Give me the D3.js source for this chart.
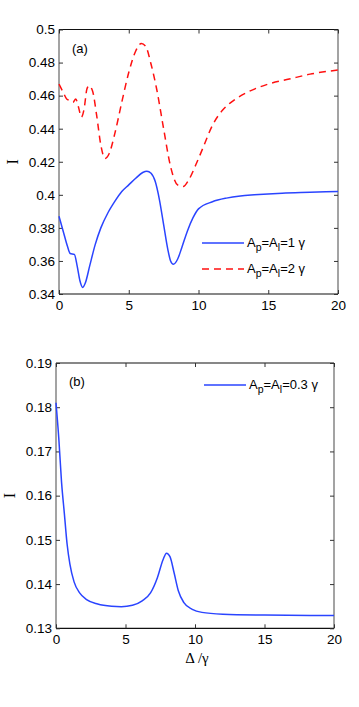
<!DOCTYPE html>
<html lang="en">
<head>
<meta charset="utf-8">
<title>Intensity vs detuning</title>
<script src="https://cdn.jsdelivr.net/npm/d3@7"></script>
<style>
    body { margin: 0; background: #fff; }
    text { font-family: "Liberation Sans", Arial, sans-serif; font-size: 13.5px; fill: #000; }
    text.serif { font-family: "Liberation Serif", "Times New Roman", serif; }
</style>
</head>
<body>
<script>

    // panel (a): A_p = A_l = 1 gamma (solid blue)
    var deltaA1 = [0, 0.3, 0.6, 0.8, 1.1, 1.3, 1.5, 1.7, 1.9, 2.2, 2.6, 3.0, 3.5, 4.0, 4.5, 5.0, 5.5, 6.0, 6.3, 6.6, 6.9, 7.2, 7.5, 7.8, 8.0, 8.2, 8.5, 8.8, 9.2, 9.6, 10, 11, 12, 13, 14, 16, 18, 20];
    var intA1 = [0.387, 0.378, 0.369, 0.3645, 0.364, 0.357, 0.348, 0.344, 0.347, 0.357, 0.370, 0.380, 0.389, 0.396, 0.402, 0.406, 0.410, 0.4135, 0.4143, 0.413, 0.408, 0.397, 0.382, 0.367, 0.360, 0.358, 0.361, 0.368, 0.378, 0.386, 0.3915, 0.3958, 0.398, 0.3993, 0.400, 0.401, 0.4015, 0.402];

    // panel (a): A_p = A_l = 2 gamma (dashed red)
    var deltaA2 = [0, 0.3, 0.55, 0.8, 1.0, 1.2, 1.4, 1.6, 1.8, 2.0, 2.15, 2.4, 2.7, 3.0, 3.3, 3.6, 4.0, 4.5, 5.0, 5.5, 5.9, 6.2, 6.6, 7.0, 7.5, 8.0, 8.5, 8.9, 9.3, 9.8, 10.3, 11, 11.7, 12.5, 13.5, 15, 16.5, 18, 20];
    var intA2 = [0.467, 0.462, 0.458, 0.457, 0.456, 0.458, 0.453, 0.447, 0.452, 0.464, 0.466, 0.463, 0.448, 0.430, 0.422, 0.425, 0.437, 0.456, 0.474, 0.487, 0.4915, 0.490, 0.479, 0.464, 0.440, 0.417, 0.406, 0.405, 0.409, 0.418, 0.428, 0.442, 0.451, 0.457, 0.462, 0.467, 0.470, 0.473, 0.4755];

    // panel (b): A_p = A_l = 0.3 gamma (solid blue)
    var deltaB = [0, 0.2, 0.4, 0.6, 0.8, 1.0, 1.3, 1.7, 2.2, 3.0, 4.0, 4.7, 5.5, 6.2, 6.8, 7.3, 7.7, 7.95, 8.2, 8.5, 8.8, 9.2, 9.8, 10.5, 12, 15, 20];
    var intB = [0.181, 0.173, 0.163, 0.156, 0.149, 0.1445, 0.1405, 0.138, 0.1365, 0.1355, 0.135, 0.1349, 0.1352, 0.1362, 0.138, 0.1415, 0.1455, 0.147, 0.1462, 0.1425, 0.1385, 0.1358, 0.1343, 0.1336, 0.1332, 0.133, 0.1329];

    var xTicks = [0, 5, 10, 15, 20];
    var yTicksA = [0.34, 0.36, 0.38, 0.4, 0.42, 0.44, 0.46, 0.48, 0.5];
    var yTicksB = [0.13, 0.14, 0.15, 0.16, 0.17, 0.18, 0.19];

    var blue = "#2a44ff";
    var red = "#ff1010";

    var svg = d3.select("body")
        .append("svg")
        .attr("width", 359)
        .attr("height", 707);

    function zip(xs, ys) {
        return xs.map(function (x, i) { return {x: x, y: ys[i]}; });
    }

    function panel(opt) {
        var x = d3.scaleLinear().domain([0, 20]).range([opt.left, opt.right]);
        var y = d3.scaleLinear().domain(opt.yDomain).range([opt.bottom, opt.top]);
        var g = svg.append("g");

        // frame
        g.append("line").attr("x1", opt.left).attr("x2", opt.left).attr("y1", opt.top).attr("y2", opt.bottom)
            .attr("stroke", "#666").attr("stroke-width", 1.2);
        g.append("line").attr("x1", opt.right).attr("x2", opt.right).attr("y1", opt.top).attr("y2", opt.bottom)
            .attr("stroke", "#666").attr("stroke-width", 1.2);
        g.append("line").attr("x1", opt.left).attr("x2", opt.right).attr("y1", opt.top).attr("y2", opt.top)
            .attr("stroke", "#111").attr("stroke-width", 1.2);
        g.append("line").attr("x1", opt.left).attr("x2", opt.right).attr("y1", opt.bottom).attr("y2", opt.bottom)
            .attr("stroke", "#111").attr("stroke-width", 1.2);

        // axes with inward ticks
        var fmt = function (d) { return String(+d.toFixed(2)); };
        var ax = g.append("g").attr("transform", "translate(0," + opt.bottom + ")")
            .call(d3.axisBottom(x).tickValues(xTicks).tickSize(-4).tickPadding(4).tickFormat(fmt));
        var axTop = g.append("g").attr("transform", "translate(0," + opt.top + ")")
            .call(d3.axisTop(x).tickValues(xTicks).tickSize(-4).tickFormat(""));
        var ay = g.append("g").attr("transform", "translate(" + opt.left + ",0)")
            .call(d3.axisLeft(y).tickValues(opt.yTicks).tickSize(-4).tickPadding(4).tickFormat(fmt));
        var ayR = g.append("g").attr("transform", "translate(" + opt.right + ",0)")
            .call(d3.axisRight(y).tickValues(opt.yTicks).tickSize(-4).tickFormat(""));
        [ax, axTop, ay, ayR].forEach(function (a) {
            a.select(".domain").remove();
            a.selectAll(".tick line").attr("stroke", "#333");
            a.selectAll("text").attr("font-size", null).attr("font-family", null).attr("fill", "#000");
        });
        ax.selectAll("text").attr("dy", "0.9em");

        // y label
        g.append("text").attr("class", "serif")
            .attr("transform", "translate(" + (opt.left - 41) + "," + ((opt.top + opt.bottom) / 2) + ") rotate(-90)")
            .attr("text-anchor", "middle")
            .style("font-size", "16px")
            .text("I");

        // panel tag
        g.append("text").attr("x", opt.left + 13).attr("y", opt.top + 23).style("font-size", "13px").text(opt.tag);

        var line = d3.line()
            .x(function (d) { return x(d.x); })
            .y(function (d) { return y(d.y); })
            .curve(d3.curveMonotoneX);

        opt.series.forEach(function (s) {
            g.append("path")
                .datum(zip(s.xs, s.ys))
                .attr("fill", "none")
                .attr("stroke", s.color)
                .attr("stroke-width", 1.5)
                .attr("stroke-dasharray", s.dash || null)
                .attr("d", line);
        });

        // legend
        opt.series.forEach(function (s, i) {
            var ly = opt.legendY + i * 26;
            g.append("line")
                .attr("x1", opt.legendX).attr("x2", opt.legendX + 42)
                .attr("y1", ly).attr("y2", ly)
                .attr("stroke", s.color).attr("stroke-width", 1.5)
                .attr("stroke-dasharray", s.dash || null);
            var t = g.append("text").attr("x", opt.legendX + 45).attr("y", ly + 4).style("font-size", "13px");
            t.append("tspan").text("A");
            t.append("tspan").attr("dy", 4).style("font-size", "10.5px").text("p");
            t.append("tspan").attr("dy", -4).text("=A");
            t.append("tspan").attr("dy", 4).style("font-size", "10.5px").text("l");
            t.append("tspan").attr("dy", -4).text("=" + s.amp + " \u03b3");
        });

        return {x: x, y: y, g: g};
    }

    panel({
        left: 59, right: 338, top: 29.5, bottom: 294,
        yDomain: [0.34, 0.5], yTicks: yTicksA, tag: "(a)",
        legendX: 202, legendY: 243,
        series: [
            {xs: deltaA1, ys: intA1, color: blue, amp: "1"},
            {xs: deltaA2, ys: intA2, color: red, amp: "2", dash: "7,5"}
        ]
    });

    var pb = panel({
        left: 56, right: 334, top: 363, bottom: 628.3,
        yDomain: [0.13, 0.19], yTicks: yTicksB, tag: "(b)",
        legendX: 204, legendY: 385,
        series: [
            {xs: deltaB, ys: intB, color: blue, amp: "0.3"}
        ]
    });

    // x label
    pb.g.append("text").attr("class", "serif")
        .attr("x", 197).attr("y", 663)
        .attr("text-anchor", "middle")
        .style("font-size", "15px")
        .text("\u0394 /\u03b3");

</script>
</body>
</html>
